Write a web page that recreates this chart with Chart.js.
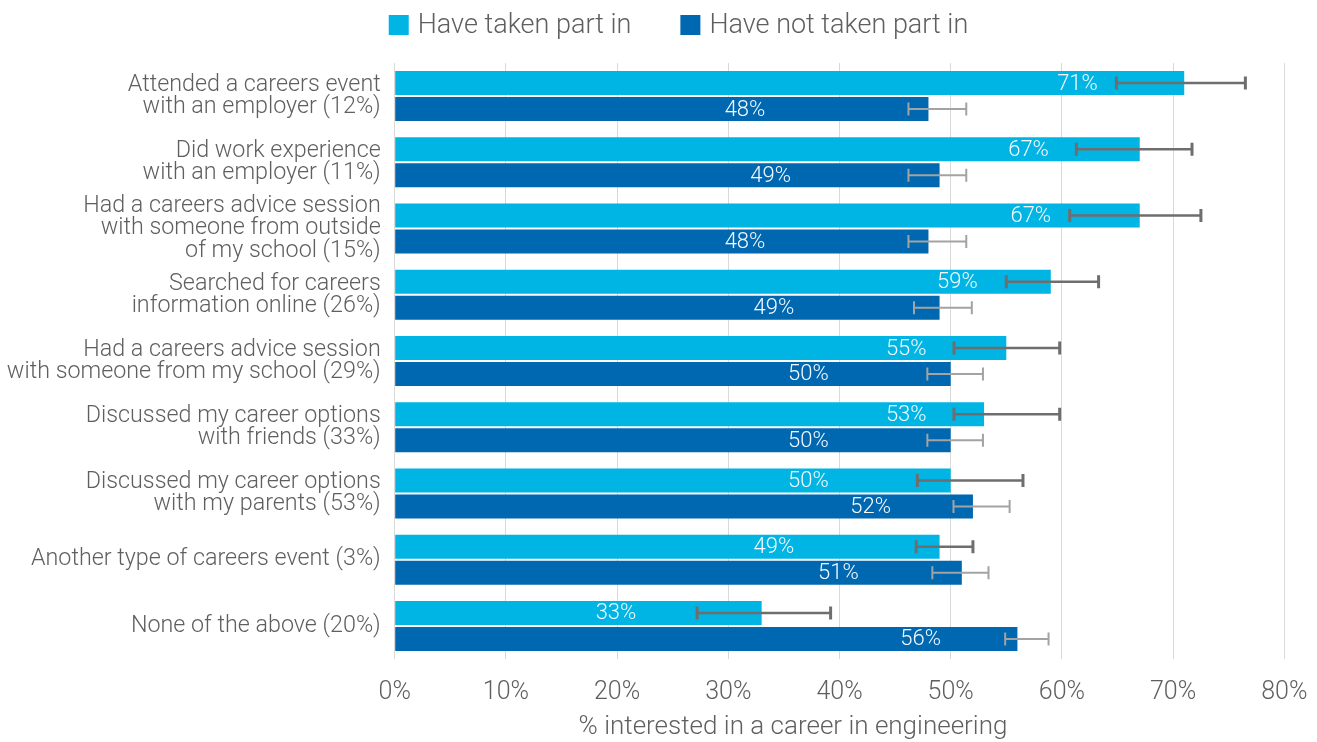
<!DOCTYPE html>
<html>
<head>
<meta charset="utf-8">
<script src="https://cdn.jsdelivr.net/npm/chart.js@4.4.1/dist/chart.umd.min.js"></script>
<style>
  html, body { margin: 0; padding: 0; background: #ffffff; }
  #wrap { width: 1317px; height: 742px; position: relative; }
</style>
</head>
<body>
<div id="wrap"><canvas id="c"></canvas></div>
<script>
// ---------- DATA ----------
const categories = [
  ["Attended a careers event", "with an employer (12%)"],
  ["Did work experience", "with an employer (11%)"],
  ["Had a careers advice session", "with someone from outside", "of my school (15%)"],
  ["Searched for careers", "information online (26%)"],
  ["Had a careers advice session", "with someone from my school (29%)"],
  ["Discussed my career options", "with friends (33%)"],
  ["Discussed my career options", "with my parents (53%)"],
  "Another type of careers event (3%)",
  "None of the above (20%)"
];
const seriesNames = ["Have taken part in", "Have not taken part in"];
const takenValues    = [71, 67, 67, 59, 55, 53, 50, 49, 33];
const notTakenValues = [48, 49, 48, 49, 50, 50, 52, 51, 56];
// error bar ranges
const takenLow     = [64.9, 61.3, 60.7, 55.0, 50.3, 50.3, 47.0, 46.9, 27.2];
const takenHigh    = [76.5, 71.7, 72.5, 63.3, 59.8, 59.8, 56.5, 52.0, 39.2];
const notTakenLow  = [46.2, 46.2, 46.2, 46.7, 47.9, 47.9, 50.25, 48.35, 54.9];
const notTakenHigh = [51.4, 51.4, 51.4, 51.9, 52.9, 52.9, 55.3, 53.4, 58.8];
const xTicks = [0, 10, 20, 30, 40, 50, 60, 70, 80];
const xAxisTitle = '% interested in a career in engineering';

const TEXT = '#5f5f5f';
const FONT = 'Roboto';

// ---------- PLUGINS ----------
const valueLabels = {
  id: 'valueLabels',
  afterDatasetsDraw(chart, args, opts) {
    const ctx = chart.ctx, xs = chart.scales.x;
    ctx.save();
    ctx.font = '300 22px ' + FONT;
    ctx.fillStyle = '#f4fafe';
    ctx.textAlign = 'center';
    ctx.textBaseline = 'middle';
    chart.data.datasets.forEach((ds, di) => {
      const meta = chart.getDatasetMeta(di);
      meta.data.forEach((el, i) => {
        const at = opts.anchors[di][i];
        ctx.fillText(ds.data[i] + '%', xs.getPixelForValue(at), el.y + 1);
      });
    });
    ctx.restore();
  }
};

const errorBars = {
  id: 'errorBars',
  afterDatasetsDraw(chart, args, opts) {
    const ctx = chart.ctx, xs = chart.scales.x;
    ctx.save();
    chart.data.datasets.forEach((ds, di) => {
      const meta = chart.getDatasetMeta(di);
      const st = opts.styles[di];
      meta.data.forEach((el, i) => {
        const x1 = xs.getPixelForValue(ds.errLow[i]);
        const x2 = xs.getPixelForValue(ds.errHigh[i]);
        const y = el.y;
        ctx.strokeStyle = st.color;
        ctx.lineWidth = st.line;
        ctx.beginPath(); ctx.moveTo(x1, y); ctx.lineTo(x2, y); ctx.stroke();
        ctx.lineWidth = st.cap;
        ctx.beginPath();
        ctx.moveTo(x1, y - 6.5); ctx.lineTo(x1, y + 6.5);
        ctx.moveTo(x2, y - 6.5); ctx.lineTo(x2, y + 6.5);
        ctx.stroke();
      });
    });
    ctx.restore();
  }
};

const topLegend = {
  id: 'topLegend',
  afterDraw(chart, args, opts) {
    const ctx = chart.ctx;
    ctx.save();
    ctx.font = '300 27px ' + FONT;
    const items = chart.data.datasets.map(d => ({ text: d.label, color: d.backgroundColor, w: ctx.measureText(d.label).width }));
    const box = 20, gap = 9, spacing = 49;
    const total = items.reduce((s, it) => s + box + gap + it.w, 0) + spacing * (items.length - 1);
    let x = opts.centerX - total / 2;
    const y = opts.centerY;
    items.forEach(it => {
      ctx.fillStyle = it.color;
      ctx.fillRect(x, y - 10, box, box);
      x += box + gap;
      ctx.fillStyle = TEXT;
      ctx.textAlign = 'left';
      ctx.textBaseline = 'middle';
      ctx.fillText(it.text, x, y + 1);
      x += it.w + spacing;
    });
    ctx.restore();
  }
};

const axisTitle = {
  id: 'axisTitle',
  afterDraw(chart, args, opts) {
    const ctx = chart.ctx;
    ctx.save();
    ctx.font = '300 26px ' + FONT;
    ctx.fillStyle = TEXT;
    ctx.textAlign = 'center';
    ctx.textBaseline = 'middle';
    ctx.fillText(opts.text, opts.centerX, opts.centerY);
    ctx.restore();
  }
};

function build() {
  new Chart(document.getElementById('c'), {
    type: 'bar',
    data: {
      labels: categories,
      datasets: [
        { label: seriesNames[0], data: takenValues, errLow: takenLow, errHigh: takenHigh,
          backgroundColor: '#00B4E4', borderWidth: 0, categoryPercentage: 0.785, barPercentage: 0.923 },
        { label: seriesNames[1], data: notTakenValues, errLow: notTakenLow, errHigh: notTakenHigh,
          backgroundColor: '#0067B1', borderWidth: 0, categoryPercentage: 0.785, barPercentage: 0.923 }
      ]
    },
    options: {
      indexAxis: 'y',
      responsive: true,
      maintainAspectRatio: false,
      animation: false,
      layout: { padding: { top: 63, left: 0, right: 32.7, bottom: 0 } },
      plugins: {
        legend: { display: false },
        tooltip: { enabled: false },
        valueLabels: {
          anchors: [
            [61.4, 57.0, 57.2, 50.6, 46.0, 46.0, 37.2, 34.1, 19.9],
            [31.5, 33.8, 31.5, 34.1, 37.2, 37.2, 42.8, 39.9, 47.3]
          ]
        },
        errorBars: {
          styles: [
            { color: '#6e6e6e', line: 2.5, cap: 3 },
            { color: '#a3a3a3', line: 2, cap: 2 }
          ]
        },
        topLegend: { centerX: 678.5, centerY: 25 },
        axisTitle: { text: xAxisTitle, centerX: 793, centerY: 727 }
      },
      scales: {
        x: {
          type: 'linear',
          position: 'bottom',
          min: 0, max: 80,
          afterBuildTicks(scale) { scale.ticks = xTicks.map(v => ({ value: v })); },
          afterFit(scale) { scale.height = 83; scale.paddingLeft = 0; scale.paddingRight = 0; },
          grid: { color: '#d9d9d9', lineWidth: 1, drawTicks: false },
          border: { display: false },
          ticks: {
            padding: 19,
            color: TEXT,
            font: { family: FONT, size: 25, weight: '300' },
            callback: v => v + '%'
          },
          title: { display: false }
        },
        y: {
          afterFit(scale) { scale.width = 394.7; },
          grid: { display: false, drawTicks: false },
          border: { display: false },
          ticks: {
            padding: 14,
            color: TEXT,
            autoSkip: false,
            font: { family: FONT, size: 23.3, weight: '300', lineHeight: 0.95 }
          }
        }
      }
    },
    plugins: [valueLabels, errorBars, topLegend, axisTitle]
  });
}

if (document.fonts && document.fonts.load) {
  Promise.all([
    document.fonts.load('300 23px Roboto'),
    document.fonts.load('300 27px Roboto')
  ]).then(build, build);
} else { build(); }
</script>
</body>
</html>
